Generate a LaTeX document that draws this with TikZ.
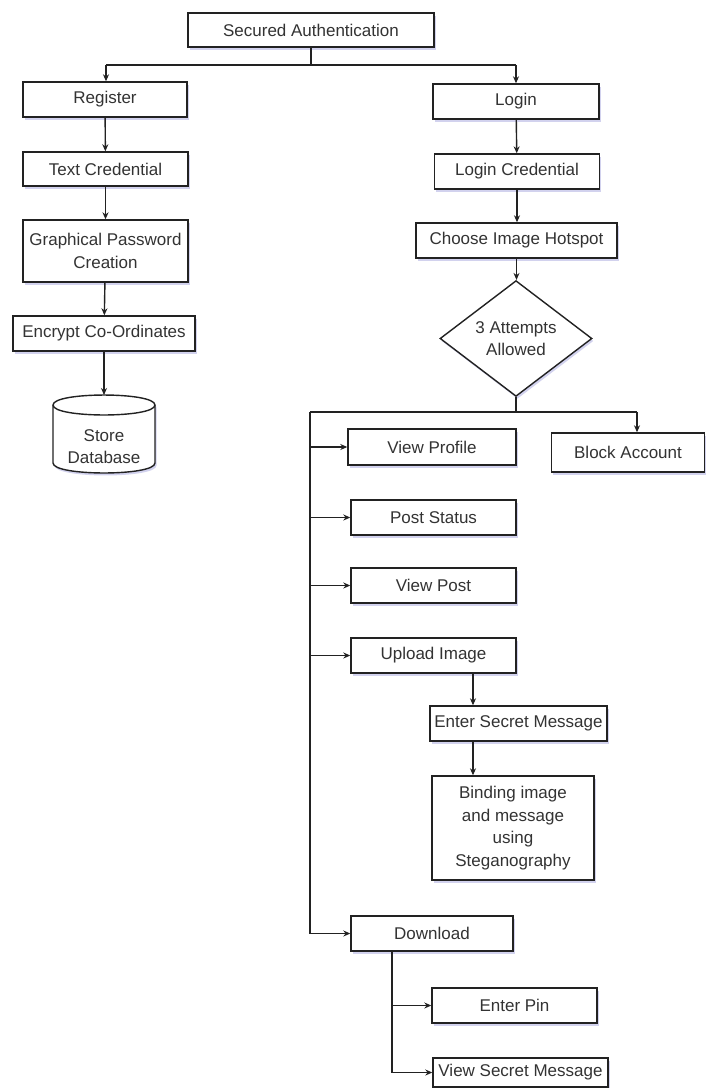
\documentclass[tikz,border=0pt]{standalone}
\usepackage{fontspec}
\setmainfont{Liberation Sans}
\usetikzlibrary{arrows.meta,shapes.geometric,shadows}
\definecolor{txtc}{HTML}{333333}
\definecolor{linec}{HTML}{222222}
\definecolor{shdc}{HTML}{6A6AC8}
\begin{document}
\begin{tikzpicture}[x=1pt,y=-1pt,
  every node/.style={font=\fontsize{17}{22.5}\selectfont, text=txtc},
  box/.style={draw=linec, line width=1.4pt, fill=white, align=center, inner sep=0pt,
    drop shadow={shadow xshift=1.5pt, shadow yshift=-2.5pt, fill=shdc, opacity=0.3}},
  conn/.style={draw=linec, line width=1.4pt},
  arr/.style={conn, -{Stealth[length=7pt,width=6pt]}}]
\fill[white] (0,0) rectangle (706,1088);
\useasboundingbox (0,0) rectangle (706,1088);

% left column
\node[box, minimum width=246pt, minimum height=34pt] (sa) at (311,30) {Secured Authentication};
\node[box, minimum width=164pt, minimum height=35pt] (reg) at (105,99.5) {Register};
\node[box, minimum width=165pt, minimum height=34pt] (txt) at (105.5,169) {Text Credential};
\node[box, minimum width=165pt, minimum height=62pt] (gp) at (105.5,251) {Graphical Password\\Creation};
\node[box, minimum width=182pt, minimum height=35pt] (enc) at (104,333.5) {Encrypt Co-Ordinates};
% cylinder
\path[draw=linec, line width=1.4pt, fill=white,
  drop shadow={shadow xshift=1.5pt, shadow yshift=-2.5pt, fill=shdc, opacity=0.3}]
  (53,405) -- (53,463) .. controls (53,476.3) and (155,476.3) .. (155,463) -- (155,405)
  .. controls (155,391.7) and (53,391.7) .. (53,405) -- cycle;
\draw[draw=linec, line width=1.4pt] (53,405) .. controls (53,418.3) and (155,418.3) .. (155,405);
\node[align=center, inner sep=0pt, minimum width=102pt, minimum height=77pt] (db) at (104,433.5) {};
\node[align=center, inner sep=0pt] (dbt) at (104,446.5) {Store\\Database};

% right column
\node[box, minimum width=166pt, minimum height=35pt] (login) at (516,101.5) {Login};
\node[box, minimum width=165pt, minimum height=35pt] (lc) at (517,171.5) {Login Credential};
\node[box, minimum width=201pt, minimum height=35pt] (cih) at (516.5,240.5) {Choose Image Hotspot};
\node[box, diamond, minimum width=152pt, minimum height=95pt] (dia) at (516,338.5) {3 Attempts\\Allowed};

\node[box, minimum width=153pt, minimum height=39pt] (bac) at (628,452.5) {Block Account};
\node[box, minimum width=168pt, minimum height=36pt] (vp) at (432,447) {View Profile};
\node[box, minimum width=165pt, minimum height=35pt] (ps) at (433.5,517.5) {Post Status};
\node[box, minimum width=165pt, minimum height=35pt] (vpo) at (433.5,585.5) {View Post};
\node[box, minimum width=165pt, minimum height=35pt] (ui) at (433.5,655.5) {Upload Image};
\node[box, minimum width=177pt, minimum height=35pt] (esm) at (518.5,723.5) {Enter Secret Message};
\node[box, minimum width=162pt, minimum height=104pt] (bind) at (513,828) {Binding image\\and message\\using\\Steganography};
\node[box, minimum width=162pt, minimum height=35pt] (dl) at (432,933.5) {Download};
\node[box, minimum width=165pt, minimum height=35pt] (pin) at (514.5,1005.5) {Enter Pin};
\node[box, minimum width=175pt, minimum height=29pt] (vsm) at (520.5,1072.5) {View Secret Message};

% top split
\coordinate (tj) at (311,65);
\coordinate (tl) at (106,65);
\coordinate (tr) at (516,65);
\draw[conn] (sa.south) -- (tj);
\draw[conn] (tl) -- (tr);
\draw[arr] (tl) -- (tl |- reg.north);
\draw[arr] (tr) -- (tr |- login.north);

% left chain
\draw[arr] (reg) -- (txt);
\draw[arr] (txt) -- (gp);
\draw[arr] (gp) -- (enc);
\draw[arr] (enc.south) -- (104,395);

% right chain
\draw[arr] (login) -- (lc);
\draw[arr] (lc.south) -- (lc.south |- cih.north);
\draw[arr] (cih.south) -- (cih.south |- dia.north);

% branch after diamond
\coordinate (jl) at (310,412);
\coordinate (jr) at (637,412);
\draw[conn] (dia.south) -- (dia.south |- jl);
\draw[conn] (jl) -- (jr);
\draw[arr] (jr) -- (jr |- bac.north);
\draw[conn] (jl) -- (jl |- dl.west);
\draw[arr] (jl |- vp.west) -- (vp.west);
\draw[arr] (jl |- ps.west) -- (ps.west);
\draw[arr] (jl |- vpo.west) -- (vpo.west);
\draw[arr] (jl |- ui.west) -- (ui.west);
\draw[arr] (jl |- dl.west) -- (dl.west);

% upload chain
\coordinate (ux) at (473,0);
\draw[arr] (ui.south -| ux) -- (esm.north -| ux);
\draw[arr] (esm.south -| ux) -- (bind.north -| ux);

% download chain
\coordinate (dx) at (392,0);
\draw[conn] (dl.south -| dx) -- (dx |- vsm.west);
\draw[arr] (dx |- pin.west) -- (pin.west);
\draw[arr] (dx |- vsm.west) -- (vsm.west);
\end{tikzpicture}
\end{document}
